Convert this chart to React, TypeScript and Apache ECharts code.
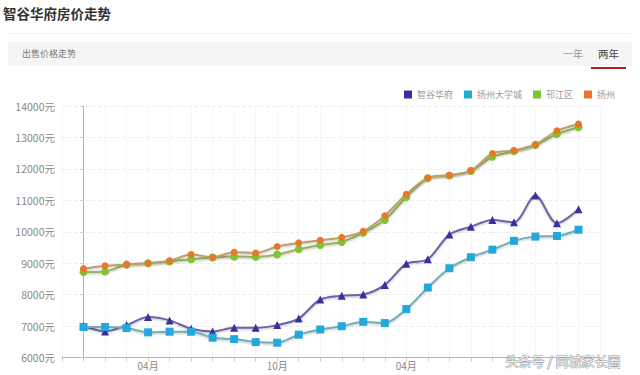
import React, { useEffect, useRef } from "react";
import * as echarts from "echarts";

const months = [
  "01月", "02月", "03月", "04月", "05月", "06月", "07月", "08月", "09月", "10月", "11月", "12月",
  "01月", "02月", "03月", "04月", "05月", "06月", "07月", "08月", "09月", "10月", "11月", "12月",
];
const shownLabelIdx = [3, 9, 15];

const seriesNames = ["智谷华府", "扬州大学城", "邗江区", "扬州"];

const zhigu = [7010, 6830, 7030, 7285, 7180, 6915, 6830, 6945, 6945, 7030, 7240, 7845,
  7965, 8005, 8310, 8980, 9125, 9910, 10160, 10375, 10300, 11150, 10270, 10715];
const daxuecheng = [6970, 6970, 6935, 6800, 6820, 6820, 6630, 6585, 6490, 6470, 6725, 6890,
  6995, 7135, 7095, 7540, 8225, 8840, 9190, 9430, 9710, 9845, 9865, 10065];
const hanjiang = [8715, 8735, 8955, 9000, 9055, 9125, 9180, 9210, 9200, 9275, 9445, 9580,
  9675, 9970, 10375, 11100, 11700, 11790, 11930, 12385, 12560, 12760, 13105, 13325];
const yangzhou = [8820, 8915, 8955, 9000, 9075, 9275, 9190, 9350, 9325, 9530, 9645, 9730,
  9820, 10015, 10510, 11195, 11710, 11800, 11945, 12490, 12585, 12775, 13210, 13430];

const yTicks = [6000, 14000, 1000];

const markerColors = ["#3a2f9f", "#22a8da", "#7fc532", "#e8772c"];
const lineColors = ["#6c63a6", "#73adb8", "#9cb060", "#b8a26a"];
const symbols = ["triangle", "rect", "circle", "circle"];
const symbolSizes = [8, 8, 8, 7];

export default function App() {
  const ref = useRef<HTMLDivElement>(null);
  useEffect(() => {
    if (!ref.current) return;
    const chart = echarts.init(ref.current, null, { renderer: "svg" });
    const allData = [zhigu, daxuecheng, hanjiang, yangzhou];
    const font = "'Noto Sans CJK SC', 'Noto Sans', sans-serif";
    chart.setOption({
      animation: false,
      textStyle: { fontFamily: font },
      grid: { left: 62, right: 40, top: 106, bottom: 17.5 },
      legend: {
        right: 20,
        top: 85,
        width: 300,
        icon: "rect",
        itemWidth: 8,
        itemHeight: 8,
        itemGap: 11,
        textStyle: { fontSize: 9, color: "#999", fontFamily: font },
        data: seriesNames.map((n, i) => ({ name: n, icon: "rect", itemStyle: { color: markerColors[i] } })),
      },
      xAxis: {
        type: "value",
        min: -1,
        max: months.length,
        interval: 1,
        axisLine: { show: true, lineStyle: { color: "#b5b5b5", width: 1 } },
        axisTick: { show: true, length: 4, lineStyle: { color: "#c8c8c8" } },
        axisLabel: {
          margin: 3,
          fontSize: 10,
          color: "#888",
          showMinLabel: true,
          showMaxLabel: true,
          formatter: (v: number) => (shownLabelIdx.includes(v) ? months[v] : ""),
        },
        splitLine: { show: true, lineStyle: { color: "#ececec", type: "dotted", width: 1 } },
      },
      yAxis: {
        type: "value",
        min: yTicks[0],
        max: yTicks[1],
        interval: yTicks[2],
        axisLine: { show: true, lineStyle: { color: "#b5b5b5", width: 1 } },
        axisTick: { show: true, length: 3, lineStyle: { color: "#c8c8c8" } },
        axisLabel: { margin: 7, fontSize: 10.5, color: "#888", formatter: (v: number) => `${v}元` },
        splitLine: { show: true, lineStyle: { color: "#ededed", type: "dashed", width: 1 } },
      },
      graphic: [
        {
          type: "text",
          left: 3,
          top: 6,
          style: { text: "智谷华府房价走势", fontSize: 13.5, fontWeight: "bold", fill: "#333", fontFamily: font },
        },
        { type: "rect", shape: { x: 6, y: 33, width: 624, height: 1 }, style: { fill: "#efefef" } },
        { type: "rect", shape: { x: 8, y: 42, width: 624, height: 24 }, style: { fill: "#f5f5f5" } },
        {
          type: "text",
          left: 22,
          top: 49,
          style: { text: "出售价格走势", fontSize: 9, fill: "#777", fontFamily: font },
        },
        {
          type: "text",
          left: 563,
          top: 48,
          style: { text: "一年", fontSize: 10, fill: "#999", fontFamily: font },
        },
        {
          type: "text",
          left: 598,
          top: 48,
          style: { text: "两年", fontSize: 10.5, fill: "#444", fontFamily: font },
        },
        { type: "rect", shape: { x: 591, y: 67, width: 35, height: 2 }, style: { fill: "#a82025" } },
        {
          type: "text",
          left: 505,
          top: 353,
          z: 100,
          style: {
            text: "头条号 / 同城家长圈",
            fontSize: 13,
            fill: "rgba(255,255,255,0.92)",
            stroke: "#9a9a9a",
            lineWidth: 1,
            fontFamily: font,
          },
        },
      ],
      series: seriesNames.map((name, i) => ({
        name,
        type: "line",
        smooth: 0.3,
        symbol: symbols[i],
        symbolSize: symbolSizes[i],
        showAllSymbol: true,
        itemStyle: { color: markerColors[i] },
        lineStyle: {
          color: lineColors[i],
          width: 2,
          shadowColor: "rgba(0,0,0,0.25)",
          shadowBlur: 2,
          shadowOffsetY: 1,
        },
        data: allData[i].map((v, k) => [k, v]),
      })),
    });
    return () => chart.dispose();
  }, []);
  return <div ref={ref} style={{ position: "fixed", left: 0, top: 0, width: 640, height: 375, background: "#fff" }} />;
}
